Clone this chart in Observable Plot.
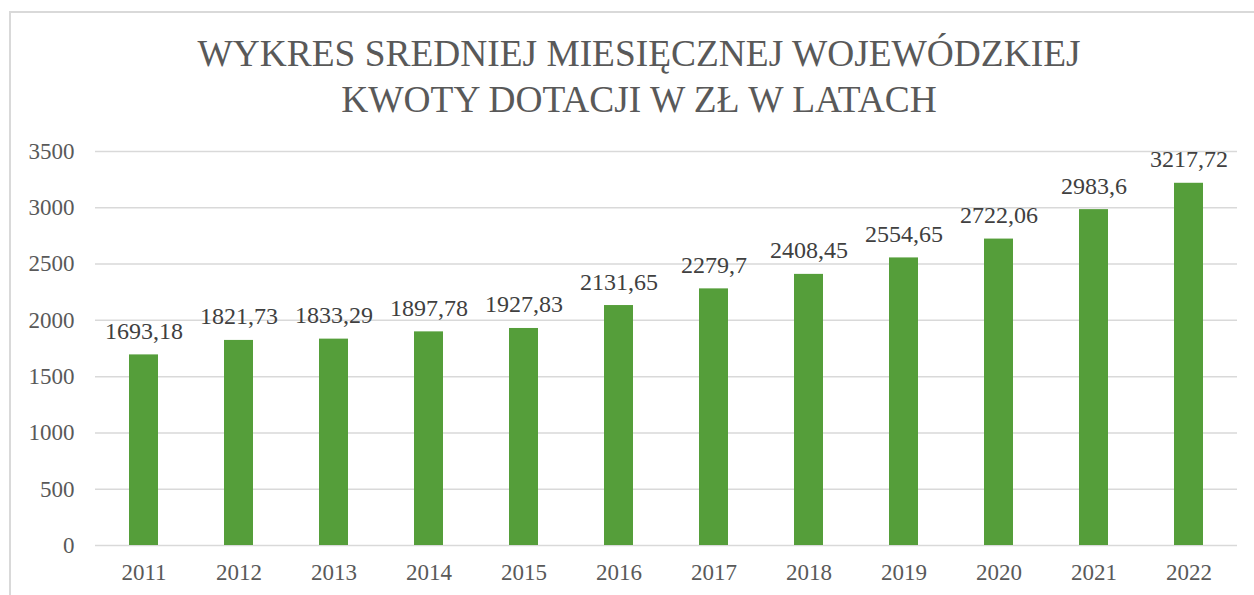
<!DOCTYPE html>
<html>
<head>
<meta charset="utf-8">
<script src="https://cdn.jsdelivr.net/npm/d3@7"></script>
<script src="https://cdn.jsdelivr.net/npm/@observablehq/plot@0.6"></script>
<style>
  html, body { margin: 0; padding: 0; background: #fff; width: 1254px; height: 595px; overflow: hidden; }
  #wrap { position: relative; width: 1254px; height: 595px; }
  #frame { position: absolute; left: 9px; top: 11px; width: 1300px; height: 700px; border-left: 2px solid #d9d9d9; border-top: 2px solid #d9d9d9; box-sizing: border-box; }
  #title { position: absolute; left: 0; top: 31px; width: 1278px; text-align: center; font-family: "Liberation Serif", "Times New Roman", serif; font-size: 37.4px; line-height: 46px; color: #595959; }
  #chart { position: absolute; left: 0; top: 130px; }
</style>
</head>
<body>
<div id="wrap">
  <div id="frame"></div>
  <div id="title">WYKRES SREDNIEJ MIESIĘCZNEJ WOJEWÓDZKIEJ<br>KWOTY DOTACJI W ZŁ W LATACH</div>
  <div id="chart"></div>
</div>
<script>
const years = ["2011","2012","2013","2014","2015","2016","2017","2018","2019","2020","2021","2022"];
const values = [1693.18, 1821.73, 1833.29, 1897.78, 1927.83, 2131.65, 2279.7, 2408.45, 2554.65, 2722.06, 2983.6, 3217.72];
const yTicks = [0, 500, 1000, 1500, 2000, 2500, 3000, 3500];

const data = years.map((y, i) => ({year: y, value: values[i], label: String(values[i]).replace(".", ",")}));

const serif = "'Liberation Serif', 'Times New Roman', serif";

const chart = Plot.plot({
  width: 1254,
  height: 465,
  marginLeft: 95,
  marginRight: 17,
  marginTop: 21,
  marginBottom: 50,
  style: { fontFamily: serif, background: "transparent" },
  x: { domain: years, paddingInner: 0.69, paddingOuter: 0.345, label: null },
  y: { domain: [0, 3500], label: null },
  marks: [
    Plot.ruleY(yTicks, { stroke: "#d9d9d9", strokeWidth: 1.5 }),
    Plot.barY(data, { x: "year", y: "value", fill: "#559e3a" }),
    Plot.text(data, { x: "year", y: "value", text: "label", lineAnchor: "bottom", dy: -16, fontSize: 24, fill: "#404040", fontFamily: serif }),
    Plot.axisY({ ticks: yTicks, tickFormat: d => String(d), tickSize: 0, tickPadding: 21, fontSize: 23, color: "#595959", label: null }),
    Plot.axisX({ tickSize: 0, tickPadding: 18, fontSize: 23, color: "#595959", label: null })
  ]
});
document.getElementById("chart").appendChild(chart);
</script>
</body>
</html>
